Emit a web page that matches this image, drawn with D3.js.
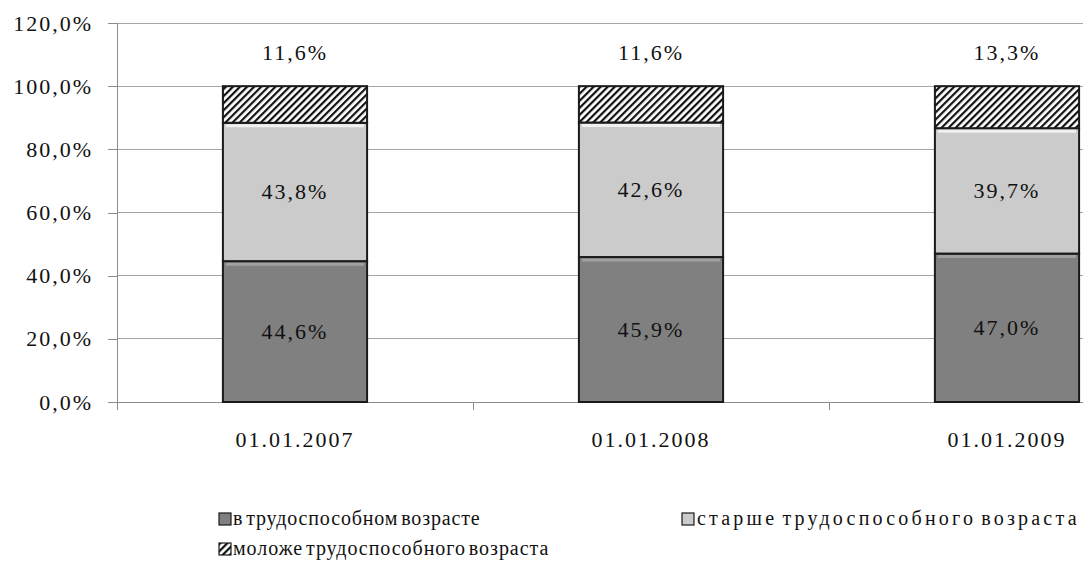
<!DOCTYPE html>
<html>
<head>
<meta charset="utf-8">
<script src="https://cdn.jsdelivr.net/npm/d3@7"></script>
<style>
  body { margin: 0; background: #fff; }
</style>
</head>
<body>
<div id="chart"></div>
<script>
// data
var dates = ["01.01.2007", "01.01.2008", "01.01.2009"];
var working = [44.6, 45.9, 47.0];
var older = [43.8, 42.6, 39.7];
var younger = [11.6, 11.6, 13.3];
var seriesNames = ["в трудоспособном возрасте", "старше трудоспособного возраста", "моложе трудоспособного возраста"];
var yTicks = [0, 20, 40, 60, 80, 100, 120];

var W = 1083, H = 567;
var FONT = "'Liberation Serif'";
var svg = d3.select("#chart").append("svg").attr("width", W).attr("height", H)
  .style("font-family", FONT);

var defs = svg.append("defs");
var pat = defs.append("pattern").attr("id", "hatch")
  .attr("patternUnits", "userSpaceOnUse").attr("width", 5).attr("height", 5)
  .attr("patternTransform", "rotate(45)");
pat.append("rect").attr("width", 5).attr("height", 5).attr("fill", "#fff");
pat.append("rect").attr("width", 2.2).attr("height", 5).attr("fill", "#111");

// plot area (the last category is cut by the right edge, like in the original)
var plotLeft = 117, plotTop = 23, plotBottom = 402, band = 356;
var x = d3.scaleBand().domain(dates).range([plotLeft, plotLeft + 3 * band]).paddingInner(0.595).paddingOuter(0.2975);
var y = d3.scaleLinear().domain([0, 120]).range([plotBottom, plotTop]);
var pct = v => d3.format(".1f")(v).replace(".", ",") + "%";

function txt(sel, size) {
  return sel.style("font-family", FONT).style("font-size", size + "px")
    .style("letter-spacing", "2px").attr("fill", "#111");
}

// gridlines
svg.append("g").selectAll("line").data(yTicks.filter(d => d > 0)).enter().append("line")
  .attr("x1", plotLeft).attr("x2", W).attr("y1", d => y(d)).attr("y2", d => y(d))
  .attr("stroke", "#a6a6a6").attr("stroke-width", 1).attr("shape-rendering", "crispEdges");

// y axis
var yAxis = svg.append("g").attr("transform", "translate(" + plotLeft + ",0)")
  .call(d3.axisLeft(y).tickValues(yTicks).tickSize(9).tickPadding(15).tickFormat(pct));
yAxis.attr("font-family", "Liberation Serif");
yAxis.selectAll("line, path").attr("stroke", "#8c8c8c").attr("shape-rendering", "crispEdges");
yAxis.select(".domain").attr("d", "M0," + plotBottom + "V" + plotTop);
txt(yAxis.selectAll("text"), 22);

// x axis
var xAxis = svg.append("g").attr("transform", "translate(0," + plotBottom + ")");
xAxis.append("line").attr("x1", plotLeft).attr("x2", W).attr("stroke", "#8c8c8c").attr("shape-rendering", "crispEdges");
var bounds = [plotLeft, plotLeft + band, plotLeft + 2 * band];
xAxis.selectAll(".tk").data(bounds).enter().append("line")
  .attr("x1", d => d).attr("x2", d => d).attr("y1", 0).attr("y2", 8)
  .attr("stroke", "#8c8c8c").attr("shape-rendering", "crispEdges");
txt(xAxis.selectAll("text").data(dates).enter().append("text"), 22)
  .attr("x", d => x(d) + x.bandwidth() / 2).attr("y", 45)
  .attr("text-anchor", "middle").text(d => d);

// stacked bars
var rows = dates.map((d, i) => ({ date: d, w: working[i], o: older[i], y: younger[i] }));
var stack = d3.stack().keys(["w", "o", "y"])(rows);
var fills = ["#808080", "#cbcbcb", "url(#hatch)"];

stack.forEach(function (layer, li) {
  var g = svg.append("g");
  g.selectAll("rect").data(layer).enter().append("rect")
    .attr("x", d => x(d.data.date))
    .attr("width", x.bandwidth())
    .attr("y", d => y(Math.min(d[1], 100)))
    .attr("height", d => y(d[0]) - y(Math.min(d[1], 100)))
    .attr("fill", fills[li])
    .attr("stroke", "#1a1a1a").attr("stroke-width", 2);
  if (li < 2) {
    // soft highlight at the top edge (bevel look)
    g.selectAll("line").data(layer).enter().append("line")
      .attr("x1", d => x(d.data.date) + 3).attr("x2", d => x(d.data.date) + x.bandwidth() - 3)
      .attr("y1", d => y(Math.min(d[1], 100)) + 3).attr("y2", d => y(Math.min(d[1], 100)) + 3)
      .attr("stroke", "#fff").attr("stroke-opacity", li === 0 ? 0.25 : 0.7).attr("stroke-width", 3);
  }
  txt(g.selectAll("text").data(layer).enter().append("text"), 22)
    .attr("x", d => x(d.data.date) + x.bandwidth() / 2)
    .attr("y", d => (li < 2 ? y((d[0] + d[1]) / 2) : y(110.5)) + 7)
    .attr("text-anchor", "middle")
    .text(d => pct(d[1] - d[0]));
});

// legend
var legendPos = [[219, 520], [682, 520], [219, 550]];
var legendSpacing = [0.85, 3.2, 0.95];
var lg = svg.append("g").selectAll("g").data(seriesNames).enter().append("g")
  .attr("transform", (d, i) => "translate(" + legendPos[i][0] + "," + legendPos[i][1] + ")");
lg.append("rect").attr("x", 0).attr("y", -7).attr("width", 12).attr("height", 12)
  .attr("fill", (d, i) => fills[i]).attr("stroke", "#1a1a1a").attr("stroke-width", 1.2);
txt(lg.append("text"), 20).attr("x", (d, i) => i === 1 ? 15 : 14).attr("y", 5)
  .style("letter-spacing", (d, i) => legendSpacing[i] + "px").style("word-spacing", "-3px").text(d => d);
</script>
</body>
</html>
